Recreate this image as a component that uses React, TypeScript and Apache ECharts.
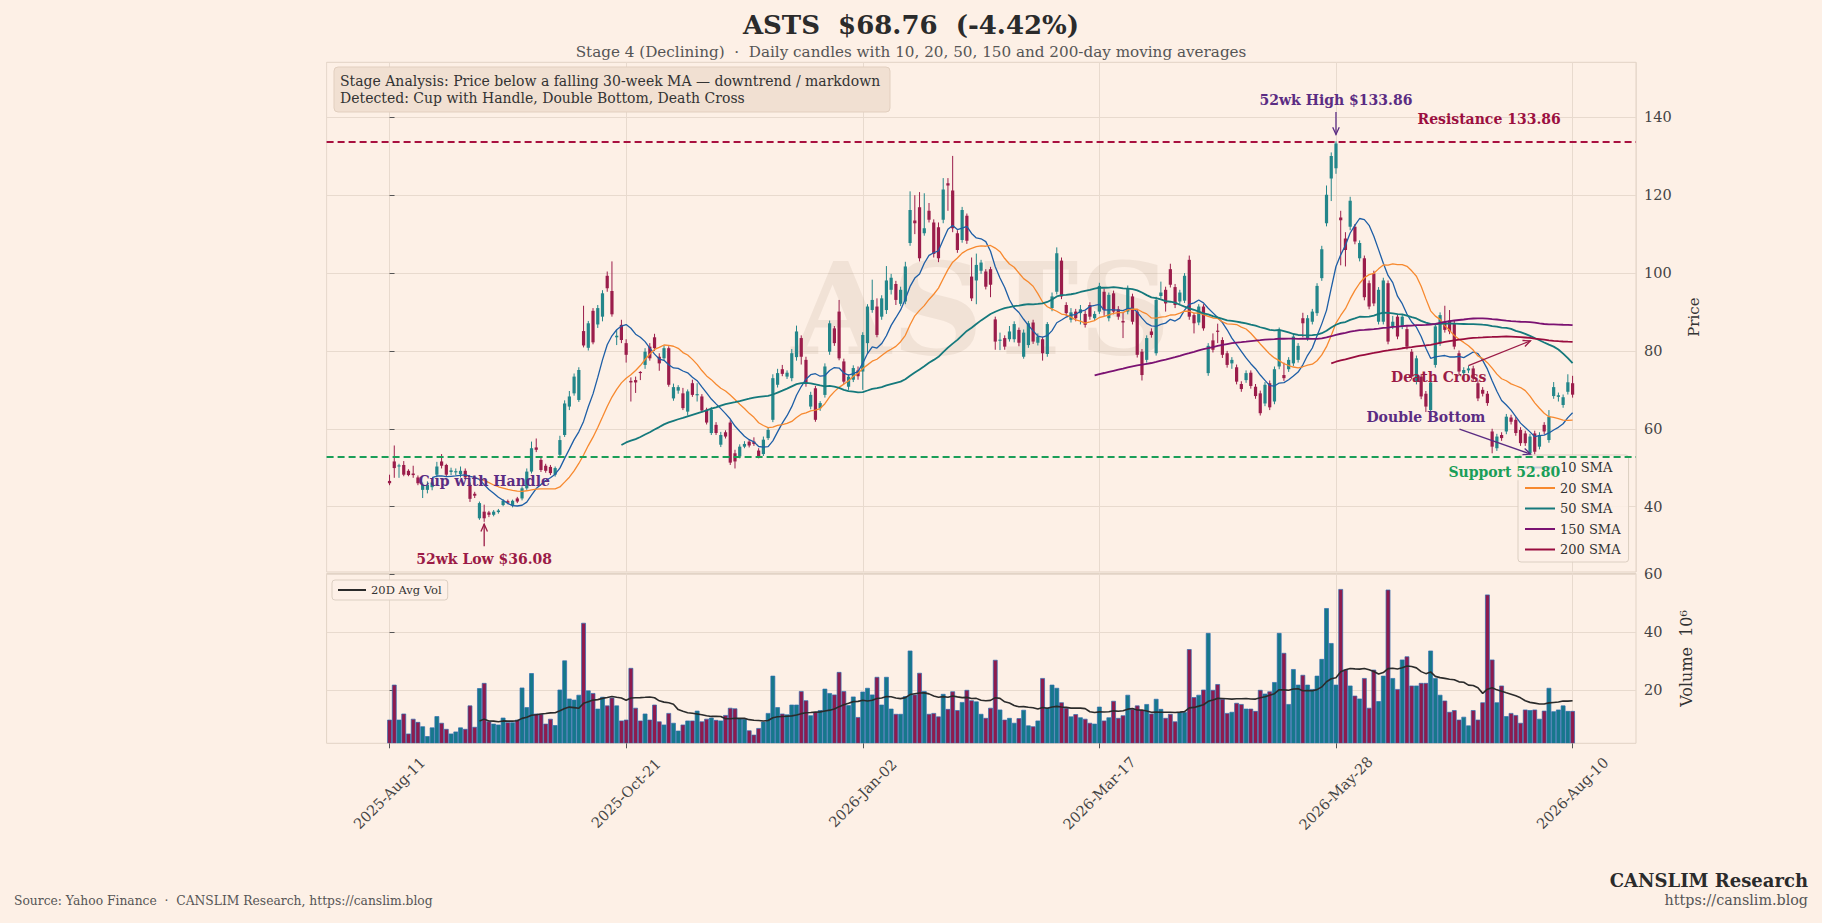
import React, { useEffect, useRef } from "react";
import * as echarts from "echarts";

// ---------------- data ----------------
const TICK_INDEX = [0, 50, 100, 150, 200, 250];
const TICK_LABELS = ["2025-Aug-11", "2025-Oct-21", "2026-Jan-02", "2026-Mar-17", "2026-May-28", "2026-Aug-10"];
const PRICE_TICKS = [40, 60, 80, 100, 120, 140];
const VOLUME_TICKS = [20, 40, 60];

const OPEN = [
  46.6, 51.6, 50.3, 50.7, 49.2, 48.5, 47.5, 44.3, 44.3, 45.0,
  48.2, 51.6, 50.7, 48.9, 48.8, 48.3, 49.2, 45.6, 43.3, 37.0,
  38.7, 38.5, 37.9, 38.6, 40.4, 41.4, 40.4, 42.1, 42.1, 44.7,
  49.0, 55.2, 52.0, 50.5, 50.2, 48.2, 53.3, 58.4, 65.7, 69.1,
  67.4, 85.1, 80.8, 90.3, 86.8, 88.8, 99.3, 95.4, 83.5, 86.7,
  82.0, 72.3, 72.5, 74.6, 76.4, 81.1, 83.5, 78.5, 78.1, 80.7,
  67.8, 69.8, 69.1, 64.4, 71.7, 68.6, 68.3, 64.9, 58.9, 61.0,
  55.9, 59.1, 61.6, 53.7, 52.9, 55.4, 56.7, 56.7, 54.4, 53.5,
  57.6, 62.3, 71.3, 75.3, 73.4, 73.0, 78.4, 83.3, 77.7, 65.7,
  70.4, 65.3, 68.7, 79.8, 85.8, 90.1, 77.3, 70.8, 72.6, 75.0,
  74.7, 82.0, 90.5, 91.4, 88.8, 90.5, 95.7, 97.2, 92.1, 92.7,
  107.7, 113.5, 116.9, 110.2, 116.0, 113.0, 111.8, 113.7, 123.1, 121.2,
  110.2, 108.5, 114.7, 99.1, 98.1, 100.6, 100.4, 101.0, 88.1, 82.6,
  83.3, 83.0, 83.0, 85.4, 78.5, 81.5, 87.3, 82.1, 83.0, 79.2,
  91.0, 95.2, 103.2, 91.8, 88.0, 90.1, 89.7, 89.5, 91.8, 88.4,
  90.1, 95.2, 88.4, 94.8, 90.7, 87.7, 90.1, 94.0, 90.1, 79.8,
  77.7, 85.0, 79.4, 94.1, 95.7, 101.0, 96.4, 92.7, 92.9, 103.4,
  89.2, 87.3, 91.4, 74.3, 82.7, 85.2, 82.8, 79.4, 76.8, 75.8,
  71.5, 72.5, 74.4, 70.8, 69.1, 66.5, 71.7, 67.0, 76.0, 73.8,
  75.3, 76.8, 77.7, 88.4, 83.3, 87.5, 89.7, 98.7, 112.8, 124.3,
  126.9, 114.3, 108.9, 111.9, 111.9, 103.8, 103.8, 97.4, 99.9, 87.5,
  87.5, 97.4, 86.3, 88.8, 86.3, 85.6, 79.8, 72.1, 73.4, 69.0,
  64.8, 76.4, 82.0, 87.5, 87.8, 87.1, 79.4, 74.3, 75.0, 75.5,
  71.7, 70.0, 69.0, 59.3, 55.0, 58.4, 59.3, 62.9, 62.3, 59.7,
  58.8, 53.7, 58.8, 55.4, 61.0, 57.1, 68.4, 68.2, 66.1, 69.5, 71.7,
];

const CLOSE = [
  46.0, 49.9, 50.6, 48.2, 48.1, 48.1, 46.0, 45.6, 45.6, 46.2,
  50.3, 50.5, 48.2, 49.3, 49.1, 49.2, 47.5, 42.0, 42.8, 40.9,
  37.0, 37.9, 38.7, 39.0, 41.5, 41.0, 41.5, 41.3, 44.7, 49.0,
  55.0, 54.6, 49.4, 49.2, 48.6, 49.9, 57.1, 66.5, 68.3, 73.4,
  75.1, 81.4, 87.1, 82.2, 91.0, 94.8, 96.1, 89.4, 83.9, 82.8,
  79.0, 71.9, 71.9, 74.3, 79.8, 78.1, 80.7, 76.8, 80.7, 71.3,
  70.7, 70.7, 65.3, 69.6, 68.7, 68.9, 64.7, 61.6, 64.9, 58.9,
  58.4, 58.0, 51.3, 51.6, 55.4, 56.1, 55.7, 56.1, 52.9, 57.2,
  59.7, 73.0, 74.3, 74.1, 74.4, 79.4, 85.0, 78.5, 71.7, 68.7,
  62.3, 66.6, 76.0, 87.1, 82.0, 78.1, 72.1, 73.4, 75.6, 73.5,
  84.1, 91.4, 93.1, 84.1, 93.5, 98.1, 98.8, 93.1, 95.7, 101.7,
  116.2, 112.8, 103.8, 111.5, 113.7, 104.9, 103.8, 121.5, 122.5, 111.5,
  105.9, 116.2, 108.3, 93.5, 102.1, 102.7, 96.5, 97.0, 82.4, 82.9,
  81.1, 85.0, 86.9, 82.1, 84.7, 87.1, 82.4, 83.7, 79.4, 86.9,
  94.0, 105.1, 94.0, 89.7, 89.9, 88.4, 90.7, 86.7, 88.8, 89.5,
  96.7, 90.5, 94.4, 90.1, 88.8, 87.3, 96.1, 87.5, 79.0, 73.8,
  83.3, 84.1, 93.1, 95.0, 92.2, 97.0, 91.8, 95.0, 99.3, 88.8,
  87.1, 91.4, 85.8, 81.3, 80.3, 84.9, 79.0, 76.4, 77.7, 72.1,
  70.2, 74.3, 71.0, 68.4, 64.0, 71.3, 65.5, 75.3, 85.4, 73.0,
  77.7, 83.7, 81.3, 87.1, 88.4, 90.1, 96.7, 106.1, 120.1, 130.1,
  133.3, 113.6, 105.9, 118.6, 108.1, 107.7, 93.8, 91.4, 92.2, 95.7,
  98.1, 82.4, 87.5, 83.7, 88.8, 81.1, 73.4, 78.1, 68.3, 65.7,
  71.9, 86.3, 89.2, 85.4, 85.0, 81.1, 74.7, 75.1, 75.5, 73.0,
  67.8, 69.0, 66.6, 55.4, 58.0, 57.6, 63.1, 61.8, 58.9, 56.3,
  56.3, 58.0, 54.1, 58.4, 59.3, 63.1, 70.7, 68.6, 68.1, 71.94, 68.76,
];

const HIGH = [
  48.2, 55.7, 51.0, 51.7, 49.6, 50.5, 48.0, 46.2, 46.5, 47.0,
  51.5, 53.5, 51.0, 50.0, 49.8, 50.3, 49.8, 46.2, 43.8, 41.3,
  40.5, 38.9, 39.1, 39.4, 41.9, 41.8, 41.8, 42.5, 45.2, 49.8,
  56.7, 57.5, 52.6, 51.0, 50.7, 50.3, 58.2, 67.3, 69.7, 74.2,
  75.8, 91.6, 87.7, 91.0, 91.8, 95.6, 100.4, 103.0, 85.4, 88.0,
  83.0, 73.2, 73.4, 74.8, 80.7, 82.0, 84.4, 79.4, 81.4, 81.2,
  71.6, 71.2, 70.5, 70.1, 72.6, 71.7, 68.9, 65.4, 65.6, 61.7,
  59.2, 59.6, 62.2, 54.6, 56.0, 56.8, 57.3, 57.8, 55.0, 58.0,
  60.4, 74.0, 75.4, 76.4, 75.0, 80.5, 86.5, 84.0, 78.5, 69.5,
  71.0, 67.1, 76.8, 87.8, 86.4, 93.1, 78.0, 74.0, 76.3, 76.0,
  84.8, 92.0, 98.3, 93.5, 94.3, 101.8, 99.8, 98.0, 96.5, 102.9,
  121.0, 120.0, 120.8, 120.5, 118.0, 113.8, 113.0, 124.4, 124.4, 130.1,
  111.0, 117.0, 115.3, 104.0, 105.0, 103.4, 101.0, 101.6, 88.8, 84.7,
  84.0, 86.4, 87.6, 86.0, 85.5, 87.7, 88.0, 84.5, 83.6, 87.4,
  95.0, 106.6, 104.0, 92.5, 91.0, 90.8, 91.8, 90.3, 92.5, 90.2,
  97.5, 96.0, 95.0, 95.5, 91.5, 90.0, 96.8, 94.7, 90.8, 80.5,
  84.0, 85.8, 93.9, 97.8, 96.5, 102.4, 97.2, 95.7, 100.0, 104.5,
  89.8, 92.0, 92.0, 82.0, 84.5, 87.0, 83.5, 80.0, 78.4, 76.5,
  72.2, 75.0, 75.0, 71.5, 69.8, 72.0, 72.4, 76.0, 86.0, 77.0,
  78.4, 84.4, 82.0, 89.8, 89.2, 90.8, 97.4, 107.0, 122.5, 131.0,
  133.86, 116.0, 110.5, 119.6, 112.6, 108.4, 104.5, 98.1, 100.6, 96.4,
  98.8, 98.1, 89.0, 89.5, 89.5, 86.3, 80.5, 78.8, 74.1, 69.7,
  72.6, 87.0, 89.9, 91.6, 90.5, 87.8, 80.1, 75.8, 76.2, 76.2,
  72.4, 70.7, 69.7, 60.0, 58.7, 59.1, 63.8, 63.6, 63.0, 60.4,
  59.5, 58.7, 59.5, 59.1, 61.7, 64.8, 72.0, 69.3, 68.8, 74.0, 73.6,
];

const LOW = [
  45.5, 47.4, 47.4, 47.8, 47.8, 47.4, 45.5, 42.2, 43.4, 44.2,
  47.5, 49.8, 47.6, 48.1, 48.0, 47.5, 47.0, 41.2, 42.2, 36.6,
  36.08, 37.3, 37.5, 38.2, 40.1, 40.6, 39.8, 40.9, 41.6, 44.3,
  48.5, 54.0, 48.9, 48.7, 48.1, 47.7, 52.8, 57.9, 64.8, 68.5,
  66.9, 80.9, 80.1, 81.7, 85.9, 87.6, 95.2, 88.8, 81.5, 82.0,
  77.0, 67.0, 69.2, 72.5, 75.4, 77.5, 80.0, 74.9, 77.4, 70.8,
  67.2, 69.0, 64.8, 63.4, 68.2, 67.0, 64.2, 61.1, 58.4, 58.4,
  55.3, 57.5, 50.7, 49.8, 52.4, 55.0, 55.2, 55.6, 52.4, 53.0,
  57.1, 61.7, 70.6, 73.5, 72.8, 72.2, 77.5, 76.5, 70.8, 65.0,
  61.8, 64.6, 68.0, 79.0, 81.3, 77.6, 71.5, 70.0, 72.0, 72.6,
  70.0, 79.5, 89.8, 83.5, 88.0, 89.5, 94.5, 91.8, 91.5, 92.0,
  107.0, 110.0, 103.0, 109.6, 113.0, 104.0, 102.8, 112.8, 116.0, 110.5,
  105.2, 107.8, 107.5, 92.8, 92.0, 99.8, 95.8, 93.8, 80.3, 80.2,
  80.3, 82.4, 82.2, 81.2, 78.0, 80.8, 81.8, 81.4, 77.5, 78.5,
  90.2, 94.5, 93.3, 88.9, 87.3, 87.6, 86.8, 86.0, 88.0, 87.8,
  89.5, 89.0, 87.6, 89.4, 88.0, 83.3, 89.4, 86.8, 78.3, 72.4,
  77.0, 83.4, 78.8, 93.5, 90.1, 96.3, 91.0, 92.0, 92.3, 88.0,
  84.5, 86.6, 85.2, 73.6, 79.6, 82.0, 78.2, 75.7, 75.4, 71.4,
  69.5, 71.8, 70.3, 67.7, 63.4, 65.8, 64.8, 66.3, 75.3, 72.3,
  74.6, 76.1, 77.0, 83.5, 82.6, 86.8, 89.0, 98.0, 112.0, 118.5,
  125.5, 102.0, 101.7, 111.0, 107.4, 103.0, 93.0, 90.7, 91.5, 86.8,
  86.8, 81.7, 85.6, 83.0, 85.6, 80.4, 72.7, 71.4, 67.6, 64.3,
  64.1, 75.7, 81.3, 84.7, 84.3, 80.4, 74.0, 72.5, 74.3, 72.3,
  67.1, 68.3, 65.9, 53.7, 54.3, 56.9, 58.6, 61.1, 58.2, 55.6,
  55.6, 53.0, 53.4, 54.7, 58.6, 56.4, 67.7, 67.0, 65.4, 68.8, 68.0,
];

// millions of shares
const VOLUME = [
  9.6, 21.7, 9.6, 11.7, 4.8, 9.9, 8.8, 7.3, 3.9, 6.9,
  10.8, 8.5, 6.4, 4.8, 5.5, 6.9, 6.4, 14.5, 7.1, 20.5,
  22.3, 9.0, 8.2, 7.9, 10.3, 8.7, 8.7, 9.6, 20.7, 13.9,
  25.7, 11.7, 11.6, 8.2, 9.9, 7.7, 20.0, 30.1, 16.9, 16.5,
  18.2, 43.1, 19.7, 18.8, 13.4, 17.5, 14.5, 17.2, 14.5, 9.3,
  9.6, 27.5, 13.7, 9.3, 11.7, 9.6, 14.8, 9.0, 7.9, 11.9,
  8.5, 5.8, 7.9, 9.3, 9.3, 12.7, 9.0, 9.9, 10.3, 9.5,
  9.3, 11.2, 13.7, 13.5, 10.1, 9.9, 5.9, 4.4, 6.7, 8.9,
  11.9, 24.8, 13.9, 11.7, 11.4, 14.8, 14.8, 19.5, 16.3, 11.1,
  12.2, 12.9, 20.3, 18.8, 18.3, 26.1, 19.5, 14.6, 17.6, 10.5,
  19.3, 20.6, 18.3, 24.4, 14.8, 24.4, 13.4, 11.6, 11.6, 17.7,
  33.5, 18.3, 25.8, 19.5, 11.6, 11.9, 10.7, 18.5, 13.3, 19.4,
  12.9, 15.7, 19.9, 16.3, 15.9, 11.6, 10.2, 13.7, 30.3, 13.1,
  9.6, 10.2, 8.5, 10.1, 13.0, 7.6, 7.3, 9.3, 24.0, 13.8,
  21.7, 20.6, 15.6, 13.7, 10.7, 11.5, 10.4, 9.9, 8.5, 8.2,
  14.1, 9.3, 10.4, 16.1, 10.2, 11.1, 18.2, 13.3, 14.5, 12.9,
  15.0, 11.7, 16.8, 13.3, 10.2, 11.6, 9.0, 12.2, 12.2, 34.0,
  17.4, 18.2, 20.0, 39.6, 19.9, 21.9, 16.8, 11.9, 12.3, 15.4,
  15.0, 13.4, 13.4, 12.6, 19.9, 18.6, 19.4, 22.6, 39.6, 32.7,
  15.0, 27.1, 21.7, 25.1, 21.7, 20.2, 24.8, 30.6, 48.2, 36.1,
  21.7, 54.8, 26.9, 21.4, 17.9, 16.9, 24.0, 13.7, 26.9, 16.0,
  24.8, 54.6, 24.0, 20.2, 30.4, 31.5, 21.4, 21.4, 22.3, 22.3,
  33.5, 24.0, 18.2, 16.2, 12.3, 12.9, 9.6, 10.6, 7.6, 12.9,
  9.6, 15.6, 52.9, 30.4, 15.6, 21.4, 10.8, 11.9, 11.2, 8.5,
  13.1, 12.9, 13.1, 9.9, 12.7, 20.6, 12.5, 13.1, 14.5, 12.6, 12.6,
];

const SMA_PERIODS = [10, 20, 50, 150, 200];
const SMA_NAMES = ["10 SMA", "20 SMA", "50 SMA", "150 SMA", "200 SMA"];
const SMA_COLORS = ["#1d5ea6", "#f7892f", "#15797c", "#7b1272", "#990c3e"];
const SMA_WIDTHS = [1.3, 1.3, 1.8, 1.8, 1.8];
const AVG_VOL_PERIOD = 20;

const RESISTANCE = 133.86;
const SUPPORT = 52.8;

// ---------------- style ----------------
const BG = "#fdf0e6";
const GRID_C = "#e8dace";
const FONT = '"DejaVu Serif", "Liberation Serif", serif';
const UP = "#23868a";
const DOWN = "#9b1d4b";
const VOL_UP = "#16788b";
const VOL_DOWN = "#8f1a4d";
const PURPLE = "#5b2c83";
const CRIMSON = "#9b1b46";
const GREEN = "#1a9e58";

const X_MIN = -13.3;
const X_MAX = 263.4;
const P_MIN = 23.2;
const P_MAX = 154.15;
const V_MIN = 1.55;
const V_MAX = 60.3;

const W = 1822;
const H = 923;
const G_LEFT = 326.6;
const G_RIGHT = W - 1636;

function sma(values: number[], n: number): number[][] {
  const out: number[][] = [];
  let sum = 0;
  for (let i = 0; i < values.length; i++) {
    sum += values[i];
    if (i >= n) sum -= values[i - n];
    if (i >= n - 1) out.push([i, sum / n]);
  }
  return out;
}

function arrow(p1: number[], p2: number[], color: string) {
  const [x1, y1] = p1;
  const [x2, y2] = p2;
  const ang = Math.atan2(y2 - y1, x2 - x1);
  const L = 8;
  const a = 0.42;
  const h1 = [x2 - L * Math.cos(ang - a), y2 - L * Math.sin(ang - a)];
  const h2 = [x2 - L * Math.cos(ang + a), y2 - L * Math.sin(ang + a)];
  return [
    { type: "line", z: 50, shape: { x1, y1, x2, y2 }, style: { stroke: color, lineWidth: 1.3 } },
    { type: "polyline", z: 50, shape: { points: [h1, [x2, y2], h2] }, style: { stroke: color, lineWidth: 1.3, fill: "none" } },
  ];
}

function label(x: number, y: number, text: string, color: string, align: string, size = 14, extra: any = {}) {
  return {
    type: "text",
    z: 60,
    x,
    y,
    style: {
      text,
      fill: color,
      fontFamily: FONT,
      fontWeight: "bold",
      fontSize: size,
      align,
      verticalAlign: "middle",
      ...extra,
    },
  };
}

export default function App() {
  const ref = useRef<HTMLDivElement>(null);

  useEffect(() => {
    document.body.style.margin = "0";
    document.body.style.background = BG;
    document.body.style.overflow = "hidden";
    if (!ref.current) return;
    const chart = echarts.init(ref.current, null, { renderer: "svg" });

    const candleData = CLOSE.map((c, i) => [i, OPEN[i], c, LOW[i], HIGH[i]]);
    const volData = VOLUME.map((v, i) => [i, v, CLOSE[i] >= OPEN[i] ? 1 : 0]);

    const smaSeries = SMA_PERIODS.map((n, k) => ({
      name: SMA_NAMES[k],
      type: "line",
      xAxisIndex: 0,
      yAxisIndex: 0,
      data: sma(CLOSE, n),
      symbol: "none",
      showSymbol: false,
      z: 4,
      lineStyle: { color: SMA_COLORS[k], width: SMA_WIDTHS[k] },
      itemStyle: { color: SMA_COLORS[k] },
    }));

    const axisLabelBase = { fontFamily: FONT, fontSize: 14.5, color: "#444" };

    const option: any = {
      animation: false,
      backgroundColor: BG,
      textStyle: { fontFamily: FONT },
      grid: [
        { left: G_LEFT, right: G_RIGHT, top: 62.3, height: 509.7, show: true, borderColor: "#e2d3c5", borderWidth: 1, backgroundColor: "transparent" },
        { left: G_LEFT, right: G_RIGHT, top: 573.5, height: 169.8, show: true, borderColor: "#e2d3c5", borderWidth: 1, backgroundColor: "transparent" },
      ],
      xAxis: [
        {
          gridIndex: 0, type: "value", min: X_MIN, max: X_MAX, minInterval: 50, maxInterval: 50,
          axisLine: { show: false }, axisTick: { show: false }, axisLabel: { show: false },
          splitLine: { show: true, lineStyle: { color: GRID_C, width: 1 } },
        },
        {
          gridIndex: 1, type: "value", min: X_MIN, max: X_MAX, minInterval: 50, maxInterval: 50,
          axisLine: { show: false },
          axisTick: { show: true, length: 5, customValues: TICK_INDEX, lineStyle: { color: "#555" } },
          axisLabel: {
            ...axisLabelBase,
            customValues: TICK_INDEX,
            rotate: 45,
            align: "center",
            verticalAlign: "middle",
            margin: 50,
            formatter: (v: number) => {
              const k = TICK_INDEX.indexOf(Math.round(v));
              return Math.abs(v - Math.round(v)) < 1e-6 && k >= 0 ? TICK_LABELS[k] : "";
            },
          },
          splitLine: { show: true, lineStyle: { color: GRID_C, width: 1 } },
        },
      ],
      yAxis: [
        {
          gridIndex: 0, type: "value", position: "right", min: P_MIN, max: P_MAX, minInterval: 20, maxInterval: 20,
          name: "Price", nameLocation: "middle", nameRotate: 90, nameGap: 50,
          nameTextStyle: { fontFamily: FONT, fontSize: 15, color: "#333" },
          axisLine: { show: false },
          axisTick: { show: true, length: 5, customValues: PRICE_TICKS, lineStyle: { color: "#555" } },
          axisLabel: {
            ...axisLabelBase, margin: 8, customValues: PRICE_TICKS,
            formatter: (v: number) => (PRICE_TICKS.indexOf(v) >= 0 ? String(v) : ""),
          },
          splitLine: { show: true, lineStyle: { color: GRID_C, width: 1 } },
        },
        {
          gridIndex: 1, type: "value", position: "right", min: V_MIN, max: V_MAX, minInterval: 20, maxInterval: 20,
          name: "Volume  10⁶", nameLocation: "middle", nameRotate: 90, nameGap: 42,
          nameTextStyle: { fontFamily: FONT, fontSize: 16, color: "#333" },
          axisLine: { show: false },
          axisTick: { show: true, length: 5, customValues: VOLUME_TICKS, lineStyle: { color: "#555" } },
          axisLabel: {
            ...axisLabelBase, margin: 8, customValues: VOLUME_TICKS,
            formatter: (v: number) => (VOLUME_TICKS.indexOf(v) >= 0 ? String(v) : ""),
          },
          splitLine: { show: true, lineStyle: { color: GRID_C, width: 1 } },
        },
      ],
      legend: [
        {
          data: SMA_NAMES,
          orient: "vertical",
          left: 1518,
          top: 455,
          padding: [6, 8, 6, 6],
          itemGap: 7.5,
          itemWidth: 30,
          itemHeight: 14,
          itemStyle: { opacity: 0 },
          backgroundColor: "rgba(253,240,230,0.85)",
          borderColor: "#dccfc2",
          borderWidth: 1,
          borderRadius: 3,
          textStyle: { fontFamily: FONT, fontSize: 13, color: "#333" },
          selectedMode: false,
        },
        {
          data: ["20D Avg Vol"],
          orient: "vertical",
          left: 332,
          top: 580,
          padding: [4, 6, 4, 5],
          itemWidth: 28,
          itemHeight: 12,
          itemStyle: { opacity: 0 },
          backgroundColor: "rgba(253,240,230,0.85)",
          borderColor: "#dccfc2",
          borderWidth: 1,
          borderRadius: 3,
          textStyle: { fontFamily: FONT, fontSize: 11.5, color: "#333" },
          selectedMode: false,
        },
      ],
      series: [
        {
          name: "Candles",
          type: "custom",
          xAxisIndex: 0,
          yAxisIndex: 0,
          clip: true,
          z: 3,
          encode: { x: 0, y: [1, 2, 3, 4] },
          data: candleData,
          renderItem: (params: any, api: any) => {
            const x = api.value(0);
            const o = api.value(1);
            const c = api.value(2);
            const l = api.value(3);
            const h = api.value(4);
            const pO = api.coord([x, o]);
            const pC = api.coord([x, c]);
            const pL = api.coord([x, l]);
            const pH = api.coord([x, h]);
            const w = api.size([1, 0])[0] * 0.68;
            const color = c >= o ? UP : DOWN;
            const top = Math.min(pO[1], pC[1]);
            const hgt = Math.max(1, Math.abs(pO[1] - pC[1]));
            return {
              type: "group",
              children: [
                { type: "line", shape: { x1: pH[0], y1: pH[1], x2: pL[0], y2: pL[1] }, style: { stroke: color, lineWidth: 1 } },
                { type: "rect", shape: { x: pO[0] - w / 2, y: top, width: w, height: hgt }, style: { fill: color } },
              ],
            };
          },
          markLine: {
            silent: true,
            symbol: ["none", "none"],
            label: { show: false },
            animation: false,
            data: [
              { yAxis: RESISTANCE, lineStyle: { color: "#a8103f", type: [7, 4], width: 1.8 } },
              { yAxis: SUPPORT, lineStyle: { color: GREEN, type: [7, 4], width: 1.8 } },
            ],
          },
        },
        ...smaSeries,
        {
          name: "Volume",
          type: "custom",
          xAxisIndex: 1,
          yAxisIndex: 1,
          clip: true,
          z: 2,
          encode: { x: 0, y: 1 },
          data: volData,
          renderItem: (params: any, api: any) => {
            const x = api.value(0);
            const v = api.value(1);
            const up = api.value(2) === 1;
            const pT = api.coord([x, v]);
            const pB = api.coord([x, V_MIN]);
            const w = api.size([1, 0])[0] * 0.84;
            return {
              type: "rect",
              shape: { x: pT[0] - w / 2, y: pT[1], width: w, height: pB[1] - pT[1] },
              style: { fill: up ? VOL_UP : VOL_DOWN, stroke: "#2f6db0", lineWidth: 0.7 },
            };
          },
        },
        {
          name: "20D Avg Vol",
          type: "line",
          xAxisIndex: 1,
          yAxisIndex: 1,
          data: sma(VOLUME, AVG_VOL_PERIOD),
          symbol: "none",
          showSymbol: false,
          z: 4,
          lineStyle: { color: "#2b2b2b", width: 1.6 },
          itemStyle: { color: "#2b2b2b" },
        },
      ],
    };

    chart.setOption(option);

    const px = (x: number, y: number): number[] =>
      chart.convertToPixel({ xAxisIndex: 0, yAxisIndex: 0 }, [x, y]) as number[];

    const gcx = (G_LEFT + (W - G_RIGHT)) / 2;
    const gcy = (62.3 + 572) / 2;

    const cup = px(20, 46.6);
    const lowT = px(20, 26.6);
    const highT = px(200, 144.5);
    const resT = px(247.5, 139.6);
    const supT = px(247.8, 48.8);
    const dcT = px(221.7, 73.4);
    const dbT = px(219.0, 63.1);

    const graphics: any[] = [
      // watermark
      {
        type: "text", z: 0, x: gcx, y: gcy - 8,
        style: { text: "ASTS", fill: "rgba(150,120,95,0.11)", fontFamily: FONT, fontWeight: "bold", fontSize: 128, align: "center", verticalAlign: "middle" },
      },
      // title
      {
        type: "text", z: 60, x: W / 2, y: 25,
        style: { text: "ASTS  $68.76  (-4.42%)", fill: "#2b2b2b", fontFamily: FONT, fontWeight: "bold", fontSize: 26, align: "center", verticalAlign: "middle" },
      },
      {
        type: "text", z: 60, x: W / 2, y: 52,
        style: { text: "Stage 4 (Declining)  ·  Daily candles with 10, 20, 50, 150 and 200-day moving averages", fill: "#555", fontFamily: FONT, fontSize: 15.2, align: "center", verticalAlign: "middle" },
      },
      // info box
      {
        type: "rect", z: 55, shape: { x: 334, y: 67, width: 556, height: 45, r: 4 },
        style: { fill: "#f1e0d2", stroke: "#e2cfbf", lineWidth: 1 },
      },
      {
        type: "text", z: 60, x: 340, y: 80.5,
        style: { text: "Stage Analysis: Price below a falling 30-week MA — downtrend / markdown", fill: "#333", fontFamily: FONT, fontSize: 14, align: "left", verticalAlign: "middle" },
      },
      {
        type: "text", z: 60, x: 340, y: 98,
        style: { text: "Detected: Cup with Handle, Double Bottom, Death Cross", fill: "#333", fontFamily: FONT, fontSize: 14, align: "left", verticalAlign: "middle" },
      },
      // annotations
      label(cup[0], cup[1], "Cup with Handle", PURPLE, "center"),
      label(lowT[0], lowT[1], "52wk Low $36.08", CRIMSON, "center"),
      ...arrow(px(20, 29.8), px(20, 35.5), CRIMSON),
      label(highT[0], highT[1], "52wk High $133.86", PURPLE, "center"),
      ...arrow(px(200, 141.4), px(200, 135.6), PURPLE),
      label(resT[0], resT[1], "Resistance 133.86", "#9b0f3f", "right"),
      label(supT[0], supT[1], "Support 52.80", GREEN, "right", 14, { backgroundColor: "rgba(253,240,230,0.75)", padding: [1, 2] }),
      label(dcT[0], dcT[1], "Death Cross", CRIMSON, "center"),
      ...arrow(px(228.0, 76.2), px(241.1, 82.6), CRIMSON),
      label(dbT[0], dbT[1], "Double Bottom", PURPLE, "center"),
      ...arrow(px(226.1, 59.9), px(241.1, 53.5), PURPLE),
      // footer
      {
        type: "text", z: 60, x: 14, y: 901,
        style: { text: "Source: Yahoo Finance  ·  CANSLIM Research, https://canslim.blog", fill: "#555", fontFamily: FONT, fontSize: 12.3, align: "left", verticalAlign: "middle" },
      },
      {
        type: "text", z: 60, x: 1808, y: 880,
        style: { text: "CANSLIM Research", fill: "#2b2b2b", fontFamily: FONT, fontWeight: "bold", fontSize: 18, align: "right", verticalAlign: "middle" },
      },
      {
        type: "text", z: 60, x: 1808, y: 900,
        style: { text: "https://canslim.blog", fill: "#555", fontFamily: FONT, fontSize: 14.3, align: "right", verticalAlign: "middle" },
      },
    ];

    chart.setOption({ graphic: { elements: graphics } });

    return () => {
      chart.dispose();
    };
  }, []);

  return <div ref={ref} style={{ width: W, height: H }} />;
}
